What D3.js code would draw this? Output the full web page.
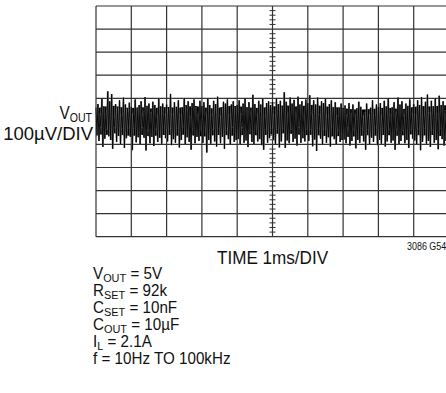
<!DOCTYPE html>
<html>
<head>
<meta charset="utf-8">
<script src="https://cdn.jsdelivr.net/npm/d3@7/dist/d3.min.js"></script>
<style>
  html, body { margin: 0; padding: 0; background: #fff; }
  svg { display: block; }
  text { font-family: "Liberation Sans", Arial, sans-serif; fill: #111; }
</style>
</head>
<body>
<svg id="chart" width="446" height="393"></svg>
<script>
// ---- data ----
const timeDivs = [0, 1, 2, 3, 4, 5, 6, 7, 8, 9, 10];          // ms (1 ms/div)
const voltDivs = [-500, -400, -300, -200, -100, 0, 100, 200, 300, 400, 500]; // µV (100 µV/div)

// upper peaks of the noise trace, µV (18 samples per division)
const noiseHi = [
  60,75,28,97,65,34,130,87,118,22,75,59,91,30,103,73,55,81,
  63,34,95,57,71,87,26,105,67,77,38,85,71,24,99,65,77,36,
  73,57,119,34,83,63,91,30,59,101,71,87,20,79,95,61,28,89,
  67,83,34,99,71,28,89,75,107,24,57,85,77,95,30,73,87,61,
  71,91,28,77,101,59,83,34,115,75,30,89,73,97,26,79,87,71,
  83,32,99,75,89,61,126,85,36,103,77,93,30,107,73,87,32,95,
  79,113,34,91,73,103,28,87,79,97,32,75,91,61,83,26,59,77,
  55,69,26,79,36,73,30,57,85,63,26,38,77,30,59,91,32,73,
  63,79,26,89,65,101,30,61,83,34,103,73,87,24,77,67,95,36,
  75,28,91,71,105,32,85,116,38,89,65,101,34,111,71,87,30,99
];
// lower peaks of the noise trace, µV
const noiseLo = [
  -61,-85,-26,-111,-75,-36,-65,-81,-119,-26,-89,-63,-99,-32,-115,-73,-30,-67,
  -125,-30,-91,-69,-99,-26,-71,-126,-38,-95,-67,-107,-32,-89,-71,-97,-28,-73,
  -87,-36,-103,-77,-93,-30,-113,-81,-28,-99,-69,-89,-123,-30,-95,-67,-85,-34,
  -93,-28,-135,-81,-97,-36,-87,-109,-30,-95,-67,-119,-38,-77,-101,-26,-89,-81,
  -77,-101,-26,-93,-83,-111,-38,-89,-99,-24,-87,-77,-103,-123,-36,-93,-73,-30,
  -81,-97,-36,-113,-87,-32,-115,-83,-95,-34,-89,-75,-105,-26,-93,-73,-87,-34,
  -85,-36,-108,-79,-128,-32,-75,-101,-36,-93,-69,-109,-28,-77,-99,-38,-89,-81,
  -79,-95,-28,-105,-85,-36,-117,-81,-93,-30,-87,-123,-34,-99,-71,-89,-28,-103,
  -81,-97,-30,-109,-87,-36,-93,-83,-123,-32,-101,-85,-38,-95,-81,-115,-34,-75,
  -83,-99,-34,-125,-89,-30,-97,-85,-111,-36,-93,-81,-121,-32,-77,-105,-85,-38
];
// dense core of the trace (upper / lower edge), µV, 4 points per division
const coreHi = [
  56,64,68,60, 58,62,56,60, 62,58,64,66, 60,56,62,68, 64,60,58,62,
  66,70,64,68, 72,66,62,60, 54,50,52,56, 60,56,54,62, 66,64,68,70
];
const coreLo = [
  -54,-60,-52,-60, -64,-58,-66,-60, -58,-62,-56,-64, -66,-60,-58,-62,
  -60,-56,-62,-58, -54,-52,-56,-60, -58,-62,-66,-64, -68,-64,-60,-62,
  -58,-64,-60,-56, -62,-58,-64,-60
];

const yLabelMain = "V";
const yLabelSub = "OUT";
const yLabelScale = "100µV/DIV";
const xLabel = "TIME 1ms/DIV";
const figId = "3086 G54";
const conditions = [
  ["V", "OUT", " = 5V"],
  ["R", "SET", " = 92k"],
  ["C", "SET", " = 10nF"],
  ["C", "OUT", " = 10µF"],
  ["I", "L", " = 2.1A"],
  ["f", "", " = 10Hz TO 100kHz"]
];

// ---- layout ----
const svg = d3.select("#chart");
const plot = { left: 96, top: 6, width: 353, height: 230.7 };

const x = d3.scaleLinear().domain([0, 10]).range([plot.left, plot.left + plot.width]);
const y = d3.scaleLinear().domain([-500, 500]).range([plot.top + plot.height, plot.top]);

const g = svg.append("g");

// grid
g.selectAll("line.v").data(timeDivs).enter().append("line")
  .attr("x1", d => x(d)).attr("x2", d => x(d))
  .attr("y1", y(-500)).attr("y2", y(500))
  .attr("stroke", "#333").attr("stroke-width", 1.2);
g.selectAll("line.h").data(voltDivs).enter().append("line")
  .attr("x1", x(0)).attr("x2", x(10))
  .attr("y1", d => y(d)).attr("y2", d => y(d))
  .attr("stroke", "#333").attr("stroke-width", 1.2);

// minor ticks on centre axes (5 per division)
const minorT = d3.range(0, 50).map(i => i / 5).filter(t => t % 1 !== 0);
const minorV = d3.range(-25, 26).map(i => i * 20).filter(v => v % 100 !== 0);
g.selectAll("line.mt").data(minorT).enter().append("line")
  .attr("x1", d => x(d)).attr("x2", d => x(d))
  .attr("y1", y(0) - 2.5).attr("y2", y(0) + 2.5)
  .attr("stroke", "#333").attr("stroke-width", 1);
g.selectAll("line.mv").data(minorV).enter().append("line")
  .attr("x1", x(5) - 3).attr("x2", x(5) + 3)
  .attr("y1", d => y(d)).attr("y2", d => y(d))
  .attr("stroke", "#333").attr("stroke-width", 1);

// dense core band
const nc = coreHi.length;
const area = d3.area()
  .x((d, i) => x(i * 10 / (nc - 1)))
  .y0((d, i) => y(coreLo[i]))
  .y1(d => y(d));
g.append("path").attr("d", area(coreHi)).attr("fill", "#000");

// noise trace: zig-zag between upper and lower peaks
const n = noiseHi.length;
const dt = 10 / n;
const pts = [];
for (let i = 0; i < n; i++) {
  pts.push([x(i * dt), y(noiseHi[i])]);
  pts.push([x(i * dt + dt / 2), y(noiseLo[i])]);
}
const line = d3.line();
g.append("path").attr("d", line(pts))
  .attr("fill", "none").attr("stroke", "#888").attr("stroke-width", 1.8);
g.append("path").attr("d", line(pts))
  .attr("fill", "none").attr("stroke", "#000").attr("stroke-width", 0.9);

// helper for horizontally condensed text
function label(px, py, size, sx, anchor) {
  return svg.append("text")
    .attr("transform", `translate(${px},${py}) scale(${sx},1)`)
    .attr("text-anchor", anchor || "start")
    .style("font-size", size + "px");
}

// y label
const yl = label(92, 119, 17.5, 0.88, "end");
yl.append("tspan").text(yLabelMain);
yl.append("tspan").text(yLabelSub).style("font-size", "12px").attr("dy", 2.5);
label(93, 139.5, 18.5, 1.0, "end").text(yLabelScale);

// x label
label(x(5), 264, 19, 0.9, "middle").text(xLabel);

// figure id
label(407, 250, 10.5, 0.85).text(figId);

// conditions
conditions.forEach((c, i) => {
  const t = label(93, 279 + i * 17, 16, 0.95);
  t.append("tspan").text(c[0]);
  if (c[1]) t.append("tspan").text(c[1]).style("font-size", "11.5px").attr("dy", 2.5);
  t.append("tspan").text(c[2]).attr("dy", c[1] ? -2.5 : 0);
});
</script>
</body>
</html>
